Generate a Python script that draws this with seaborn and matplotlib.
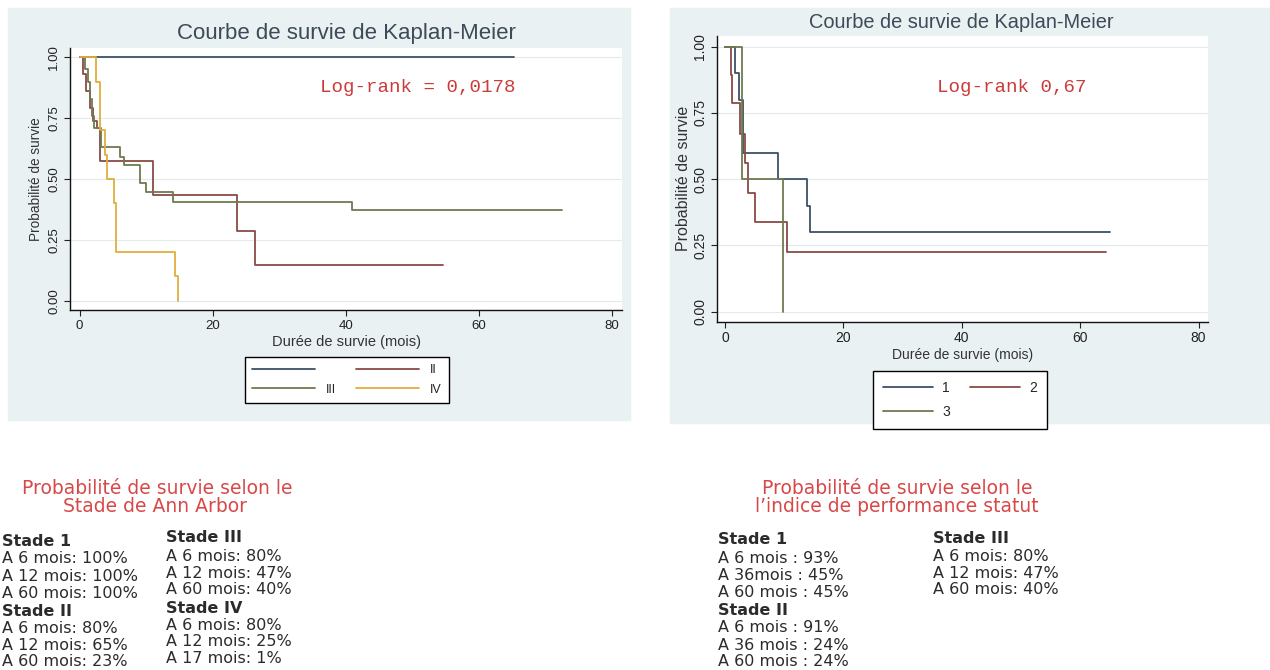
import matplotlib
matplotlib.use("Agg")
import matplotlib.pyplot as plt
from matplotlib.patches import Rectangle
import pandas as pd
import seaborn as sns

# --- Kaplan-Meier, stade de Ann Arbor ---
ann_groups = ["I", "II", "III", "IV"]
ann_legend = ["", "II", "III", "IV"]
t_I = [0, 65.3]
s_I = [1.0, 1.0]
t_II = [0, 0.5, 1.0, 1.6, 2.0, 2.6, 3.1, 11.0, 23.6, 26.4, 54.6]
s_II = [1.0, 0.93, 0.86, 0.79, 0.74, 0.71, 0.575, 0.434, 0.288, 0.145, 0.145]
t_III = [0, 0.8, 1.2, 1.5, 1.9, 2.2, 3.2, 6.0, 6.6, 9.1, 10.0, 14.1, 41.0, 72.5]
s_III = [1.0, 0.95, 0.90, 0.83, 0.76, 0.71, 0.633, 0.59, 0.557, 0.482, 0.445, 0.407, 0.373, 0.373]
t_IV = [0, 2.5, 3.1, 3.8, 4.1, 5.2, 5.5, 14.4, 14.8]
s_IV = [1.0, 0.90, 0.70, 0.60, 0.50, 0.40, 0.20, 0.10, 0.0]

# --- Kaplan-Meier, indice de performance ---
ps_groups = ["1", "2", "3"]
t_1 = [0, 1.7, 2.4, 3.0, 9.0, 13.9, 14.4, 65.1]
s_1 = [1.0, 0.90, 0.80, 0.60, 0.50, 0.40, 0.30, 0.30]
t_2 = [0, 1.0, 1.25, 2.6, 3.4, 3.9, 5.1, 10.5, 64.3]
s_2 = [1.0, 0.893, 0.786, 0.67, 0.56, 0.447, 0.337, 0.226, 0.226]
t_3 = [0, 2.8, 9.8]
s_3 = [1.0, 0.5, 0.0]

x_ticks = [0, 20, 40, 60, 80]
y_ticks = [0.0, 0.25, 0.50, 0.75, 1.00]
y_ticklabels = ["0.00", "0.25", "0.50", "0.75", "1.00"]

km_title = "Courbe de survie de Kaplan-Meier"
xlab = "Durée de survie (mois)"
ylab = "Probabilité de survie"
logrank_left = "Log-rank = 0,0178"
logrank_right = "Log-rank 0,67"

# --- textes du bas ---
ann_title = ["Probabilité de survie selon le", "Stade de Ann Arbor"]
ann_col1 = ["Stade 1", "A 6 mois: 100%", "A 12 mois: 100%", "A 60 mois: 100%",
            "Stade II", "A 6 mois: 80%", "A 12 mois: 65%", "A 60 mois: 23%"]
ann_col2 = ["Stade III", "A 6 mois: 80%", "A 12 mois: 47%", "A 60 mois: 40%",
            "Stade IV", "A 6 mois: 80%", "A 12 mois: 25%", "A 17 mois: 1%"]
ps_title = ["Probabilité de survie selon le", "l\u2019indice de performance statut"]
ps_col1 = ["Stade 1", "A 6 mois : 93%", "A 36mois : 45%", "A 60 mois : 45%",
           "Stade II", "A 6 mois : 91%", "A 36 mois : 24%", "A 60 mois : 24%"]
ps_col2 = ["Stade III", "A 6 mois: 80%", "A 12 mois: 47%", "A 60 mois: 40%"]

colors_ann = ["#3b5266", "#8a4a45", "#6e7a50", "#dfae3c"]
colors_ps = ["#3b5266", "#8a4a45", "#6e7a50"]

sns.set_style("white")
plt.rcParams["font.family"] = ["Liberation Sans", "DejaVu Sans"]

W, H = 1270, 670
fig = plt.figure(figsize=(12.7, 6.7), dpi=100)
fig.patch.set_facecolor("white")


def fx(px):
    return px / W


def fy(py):
    return 1 - py / H


def box(x0, y0, x1, y1):
    return [fx(x0), fy(y1), (x1 - x0) / W, (y1 - y0) / H]


# fonds gris des deux panneaux
panel_bg = "#eaf1f3"
for x0, y0, x1, y1 in [(8, 8, 630, 420), (670, 8, 1270, 423)]:
    fig.patches.append(Rectangle((fx(x0), fy(y1)), (x1 - x0) / W, (y1 - y0) / H,
                                 transform=fig.transFigure, color=panel_bg, zorder=-10))


def km_frame(groups, times, survs):
    rows = []
    for g, t, s in zip(groups, times, survs):
        for ti, si in zip(t, s):
            rows.append({"groupe": g, "temps": ti, "survie": si})
    return pd.DataFrame(rows)


def style_axes(ax, xlim, ylim, tick_size, xlab_size, ylab_size, ylab_x, xlab_y):
    ax.set_zorder(2)
    ax.set_facecolor("white")
    ax.set_xlim(*xlim)
    ax.set_ylim(*ylim)
    ax.set_xticks(x_ticks)
    ax.set_yticks(y_ticks)
    ax.set_yticklabels(y_ticklabels, rotation=90, va="center")
    ax.tick_params(axis="both", direction="out", length=4, width=0.8,
                   colors="#222222", labelsize=tick_size, pad=3,
                   left=True, bottom=True)
    ax.grid(axis="y", color="#e4eaec", linewidth=0.8)
    ax.grid(axis="x", visible=False)
    for side in ["top", "right"]:
        ax.spines[side].set_visible(False)
    for side in ["left", "bottom"]:
        ax.spines[side].set_color("#111111")
        ax.spines[side].set_linewidth(1.0)
    ax.set_xlabel(xlab, fontsize=xlab_size, color="#333333")
    ax.set_ylabel(ylab, fontsize=ylab_size, color="#333333")
    ax.yaxis.set_label_coords(ylab_x, 0.5)
    ax.xaxis.set_label_coords(0.5, xlab_y)


# ---------- gauche : stade de Ann Arbor ----------
ax1 = fig.add_axes(box(70, 48, 622, 310))
df_ann = km_frame(ann_groups, [t_I, t_II, t_III, t_IV], [s_I, s_II, s_III, s_IV])
sns.lineplot(data=df_ann, x="temps", y="survie", hue="groupe", hue_order=ann_groups,
             palette=colors_ann, drawstyle="steps-post", estimator=None,
             linewidth=1.3, legend=False, ax=ax1)
style_axes(ax1, (-1.44, 81.5), (-0.038, 1.038), 9.5, 10.5, 9.8, -0.049, -0.095)
h = ax1.get_lines()
order = [0, 2, 1, 3]
fig.legend([h[i] for i in order], [ann_legend[i] for i in order],
           ncol=2, loc="center", bbox_to_anchor=(fx(347), fy(380)),
           fontsize=9, frameon=True, fancybox=False, edgecolor="black",
           framealpha=1, handlelength=5.0, handletextpad=0.9,
           columnspacing=1.6, borderpad=0.6, labelspacing=0.6)
fig.text(fx(346), fy(33), km_title, ha="center", va="center", fontsize=16, color="#3d4a57")
fig.text(fx(418), fy(88), logrank_left, ha="center", va="center", fontsize=13.8,
         color="#cc3b3b", family="Liberation Mono")

# ---------- droite : indice de performance ----------
ax2 = fig.add_axes(box(717, 36, 1208, 321.7))
df_ps = km_frame(ps_groups, [t_1, t_2, t_3], [s_1, s_2, s_3])
sns.lineplot(data=df_ps, x="temps", y="survie", hue="groupe", hue_order=ps_groups,
             palette=colors_ps, drawstyle="steps-post", estimator=None,
             linewidth=1.3, legend=False, ax=ax2)
style_axes(ax2, (-1.35, 81.6), (-0.038, 1.04), 10, 10, 11.5, -0.053, -0.092)
h2 = ax2.get_lines()
order2 = [0, 2, 1]
fig.legend([h2[i] for i in order2], [ps_groups[i] for i in order2],
           ncol=2, loc="center", bbox_to_anchor=(fx(960), fy(400)),
           fontsize=10, frameon=True, fancybox=False, edgecolor="black",
           framealpha=1, handlelength=3.6, handletextpad=0.7,
           columnspacing=1.4, borderpad=0.7, labelspacing=0.75)
fig.text(fx(961), fy(23), km_title, ha="center", va="center", fontsize=14.4, color="#3d4a57")
fig.text(fx(1012), fy(88), logrank_right, ha="center", va="center", fontsize=13.8,
         color="#cc3b3b", family="Liberation Mono")

# ---------- textes du bas ----------
red = "#d94848"
txt = "#2b2b2b"
tfont = ["DejaVu Sans"]


def block(x, ys, lines, heads):
    for y, line in zip(ys, lines):
        fig.text(fx(x), fy(y), line, ha="left", va="center", fontsize=11.5,
                 color=txt, family=tfont,
                 fontweight="bold" if line in heads else "normal")


heads = ["Stade 1", "Stade II", "Stade III", "Stade IV"]
fig.text(fx(157), fy(489), ann_title[0], ha="center", va="center", fontsize=13.5, color=red, family=tfont)
fig.text(fx(155), fy(507), ann_title[1], ha="center", va="center", fontsize=13.5, color=red, family=tfont)
block(2, [541.7, 558.3, 576.7, 593.3, 611.7, 628.3, 645, 661.7], ann_col1, heads)
block(165.7, [538, 556.7, 573.3, 590, 608.3, 625, 641.7, 658.3], ann_col2, heads)

fig.text(fx(897), fy(488), ps_title[0], ha="center", va="center", fontsize=13.5, color=red, family=tfont)
fig.text(fx(897), fy(507), ps_title[1], ha="center", va="center", fontsize=13.5, color=red, family=tfont)
block(718.3, [540, 558.3, 575, 592.7, 610.7, 627.3, 645, 661.7], ps_col1, heads)
block(933.3, [538.3, 556.7, 573.3, 590], ps_col2, heads)

fig.savefig("out.png", dpi=100, facecolor="white")
